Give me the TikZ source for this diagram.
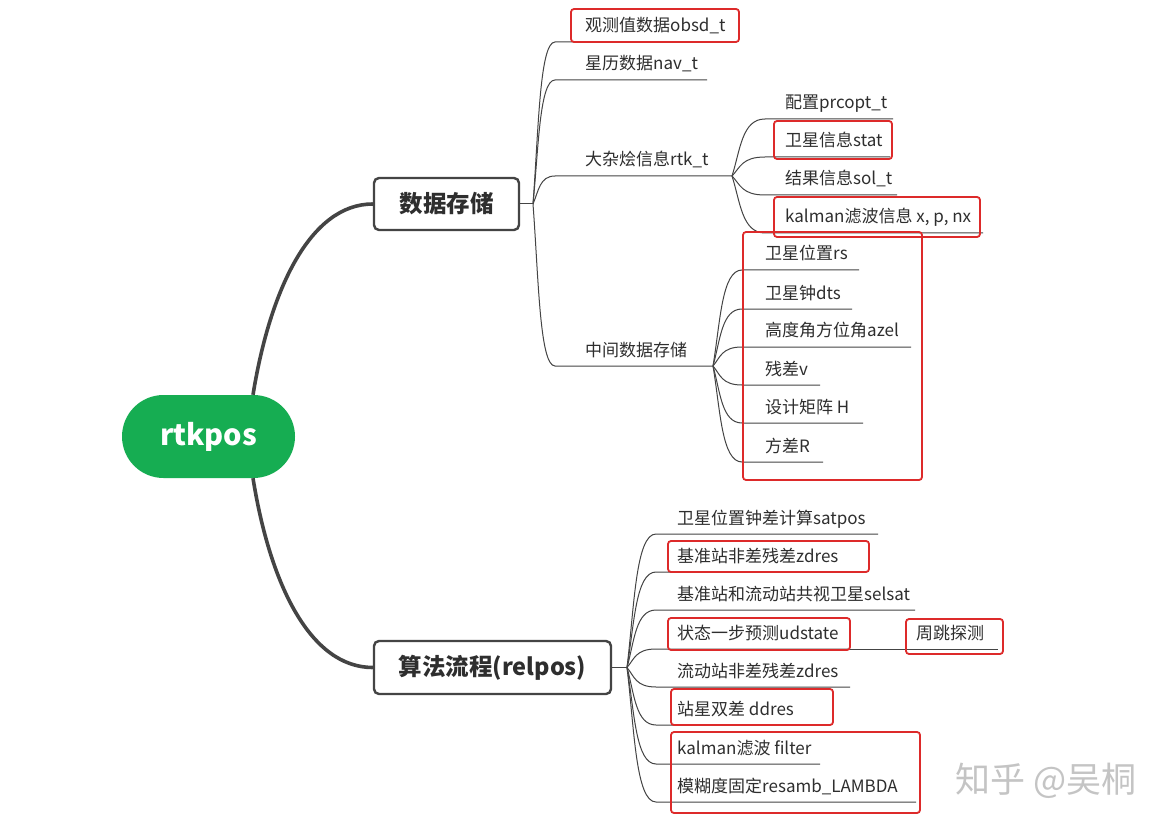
\documentclass[tikz,border=0pt]{standalone}
\usepackage{fontspec}
\setmainfont{Noto Sans CJK SC}
\newfontfamily\cjk{Noto Sans CJK SC}
\usetikzlibrary{calc}
\definecolor{mmgreen}{HTML}{16AD52}
\definecolor{mmline}{HTML}{444444}
\definecolor{mmtext}{HTML}{2E2E2E}
\definecolor{mmred}{HTML}{DD2A2A}
\definecolor{mmwm}{HTML}{C4C4C4}
\tikzset{
  leaf/.style={anchor=base west, inner sep=0pt, text=mmtext, font=\cjk\fontsize{17}{19}\selectfont},
  topic/.style={draw=mmline, line width=2.4pt, rounded corners=5pt, fill=white, text=mmtext,
     font=\cjk\bfseries\fontsize{23.5}{26}\selectfont, inner sep=0pt},
  rootnode/.style={fill=mmgreen, rounded corners=41.5pt, text=white,
     font=\cjk\bfseries\fontsize{29}{32}\selectfont, minimum width=173pt, minimum height=83pt, inner sep=0pt},
  trunk/.style={draw=mmline, line width=3.6pt},
  twig/.style={draw=mmline, line width=1pt},
  redbox/.style={draw=mmred, line width=1.8pt, rounded corners=3pt},
  branch/.style={to path={let \p1=(\tikztostart), \p2=(\tikztotarget) in
     .. controls ({\x1+0.25*(\x2-\x1)},{\y1+0.45*(\y2-\y1)}) and ({\x1+0.3*(\x2-\x1)},\y2) .. (\tikztotarget)}},
}
\newcommand\mmleaf[6]{%
  \coordinate (#1s) at (#4,#3);
  \coordinate (#1e) at (#5,#3);
  \node[leaf] (#1) at (#2,{#3-10}) {#6};
}
\begin{document}
\begin{tikzpicture}[x=1pt,y=-1pt]
\useasboundingbox[fill=white] (0,0) rectangle (1168,829);

% root and main topics
\node[rootnode] (root) at (208.5,436.5) {rtkpos};
\node[topic, minimum width=145pt, minimum height=52pt] (ds) at (446.5,204) {数据存储};
\node[topic, minimum width=237pt, minimum height=53pt] (alg) at (492.5,667.5) {算法流程(relpos)};

\coordinate (rtop) at ([xshift=44.5pt]root.north);
\coordinate (rbot) at ([xshift=44.5pt]root.south);
\draw[trunk] (rtop) .. controls (270,290) and (310,204) .. (ds.west);
\draw[trunk] (rbot) .. controls (270,584) and (310,667.5) .. (alg.west);

% junctions
\coordinate (J1) at (533,204);
\coordinate (J4) at (627,667.5);
\draw[twig] (ds.east) -- (J1);
\draw[twig] (alg.east) -- (J4);

% level 2 under 数据存储
\mmleaf{a1}{585}{42}{555}{730}{观测值数据obsd\_t}
\mmleaf{a2}{585}{80}{555}{707}{星历数据nav\_t}
\mmleaf{a3}{585}{176}{555}{732}{大杂烩信息rtk\_t}
\mmleaf{a4}{585}{366}{555}{713}{中间数据存储}
\foreach \q in {a1,a2,a3,a4} \draw[twig] (J1) to[branch] (\q s) -- (\q e);

% level 3 under rtk_t
\mmleaf{b1}{785}{119}{765}{893}{配置prcopt\_t}
\mmleaf{b2}{785}{157}{765}{890}{卫星信息stat}
\mmleaf{b3}{785}{195}{765}{897}{结果信息sol\_t}
\mmleaf{b4}{785}{233}{765}{983}{kalman滤波信息 x, p, nx}
\foreach \q in {b1,b2,b3,b4} \draw[twig] (a3e) to[branch] (\q s) -- (\q e);

% level 3 under 中间数据存储
\mmleaf{c1}{765}{270}{742}{859}{卫星位置rs}
\mmleaf{c2}{765}{309}{742}{852}{卫星钟dts}
\mmleaf{c3}{765}{347}{742}{911}{高度角方位角azel}
\mmleaf{c4}{765}{385}{742}{820}{残差v}
\mmleaf{c5}{765}{423}{742}{863}{设计矩阵 H}
\mmleaf{c6}{765}{462}{742}{823}{方差R}
\foreach \q in {c1,c2,c3,c4,c5,c6} \draw[twig] (a4e) to[branch] (\q s) -- (\q e);

% level 2 under 算法流程
\mmleaf{d1}{677}{534}{656}{878}{卫星位置钟差计算satpos}
\mmleaf{d2}{677}{572}{656}{850}{基准站非差残差zdres}
\mmleaf{d3}{677}{610}{656}{915}{基准站和流动站共视卫星selsat}
\mmleaf{d4}{677}{649}{656}{849}{状态一步预测udstate}
\mmleaf{d5}{677}{687}{656}{850}{流动站非差残差zdres}
\mmleaf{d6}{677}{725}{656}{830}{站星双差 ddres}
\mmleaf{d7}{677}{764}{656}{820}{kalman滤波 filter}
\mmleaf{d8}{677}{802}{656}{916}{模糊度固定resamb\_LAMBDA}
\foreach \q in {d1,d2,d3,d4,d5,d6,d7,d8} \draw[twig] (J4) to[branch] (\q s) -- (\q e);

% child of udstate
\mmleaf{e1}{916}{649}{849}{998}{周跳探测}
\draw[twig] (d4e) -- (e1e);

% red highlight boxes
\draw[redbox] (571,9) rectangle (739,42);
\draw[redbox] (774,121) rectangle (892,159);
\draw[redbox] (774,197) rectangle (980,237);
\draw[redbox] (743,232) rectangle (922,480);
\draw[redbox] (668,541) rectangle (869,572);
\draw[redbox] (668,618) rectangle (850,650);
\draw[redbox] (906,619) rectangle (1003,654);
\draw[redbox] (671,689) rectangle (833,725);
\draw[redbox] (671,732) rectangle (920,813);

% watermark
\node[anchor=base west, inner sep=0pt, text=mmwm, font=\cjk\fontsize{35}{38}\selectfont] (wm) at (955,792) {知乎 @吴桐};
\end{tikzpicture}
\end{document}
